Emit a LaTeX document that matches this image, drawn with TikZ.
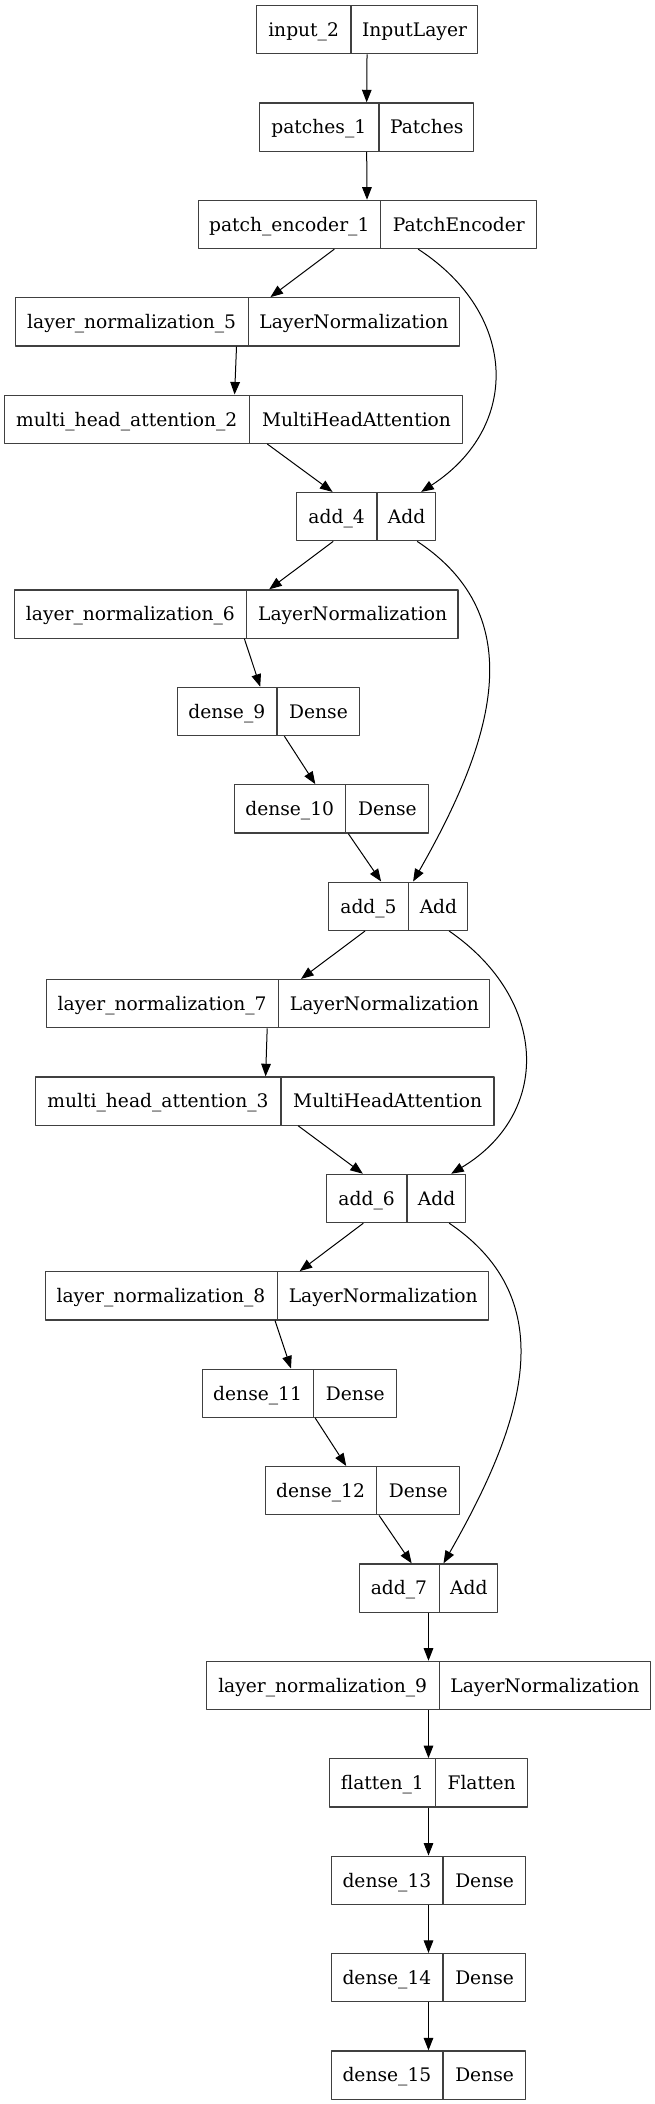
\documentclass[tikz,border=0pt]{standalone}
\usepackage{fontspec}
\setmainfont{DejaVu Serif}
\usetikzlibrary{shapes.multipart,arrows.meta,calc}
\newlength\pxu
\setlength\pxu{0.75pt}
\newcommand{\layercell}[2]{\makebox[#1\pxu]{\rule[-13pt]{0pt}{36.2pt}#2}}
\tikzset{
	layer/.style={draw=black!75, line width=0.9pt, rectangle split, rectangle split horizontal, rectangle split parts=2, inner xsep=0pt, inner ysep=0pt, font=\fontsize{14pt}{16pt}\selectfont}
}
\begin{document}
\begin{tikzpicture}[x=0.75pt, y=-0.75pt, line width=0.75pt, line join=round, >={Triangle[length=9.4pt,width=7.2pt]}]
		\fill[white] (0,0) rectangle (654,2104);
		\useasboundingbox (0,0) rectangle (654,2104);
		\foreach \n/\x/\r/\a/\b/\s/\t in {
			in2/367.2/0/93.5/126/input\_2/InputLayer,
			pat1/366.5/1/119.3/94.2/patches\_1/Patches,
			pe1/367.2/2/182/154.7/patch\_encoder\_1/PatchEncoder,
			ln5/237.5/3/231.7/210.5/layer\_normalization\_5/LayerNormalization,
			mha2/233.6/4/244.6/212.4/multi\_head\_attention\_2/MultiHeadAttention,
			add4/366.2/5/79.5/58/add\_4/Add,
			ln6/236.2/6/231.7/210.5/layer\_normalization\_6/LayerNormalization,
			d9/268.4/7/99/82/dense\_9/Dense,
			d10/331.3/8/111/82/dense\_10/Dense,
			add5/398.1/9/79.5/58/add\_5/Add,
			ln7/268/10/231.7/210.5/layer\_normalization\_7/LayerNormalization,
			mha3/264.8/11/244.6/212.4/multi\_head\_attention\_3/MultiHeadAttention,
			add6/396.2/12/79.5/58/add\_6/Add,
			ln8/266.8/13/231.7/210.5/layer\_normalization\_8/LayerNormalization,
			d11/299.2/14/111/82/dense\_11/Dense,
			d12/362.2/15/111/82/dense\_12/Dense,
			add7/428.5/16/79.5/58/add\_7/Add,
			ln9/428.5/17/231.7/210.5/layer\_normalization\_9/LayerNormalization,
			fl1/428.5/18/105/91.2/flatten\_1/Flatten,
			d13/428.5/19/111/82/dense\_13/Dense,
			d14/428.5/20/111/82/dense\_14/Dense,
			d15/428.5/21/111/82/dense\_15/Dense}
		\node[layer] (\n) at (\x,29.65+97.4*\r) {\layercell{\a}{\s}\nodepart{two}\layercell{\b}{\t}};
		\foreach \a/\b in {in2/pat1,pat1/pe1,pe1/ln5,ln5/mha2,mha2/add4,add4/ln6,ln6/d9,d9/d10,d10/add5,add5/ln7,ln7/mha3,mha3/add6,add6/ln8,ln8/d11,d11/d12,d12/add7,add7/ln9,ln9/fl1,fl1/d13,d13/d14,d14/d15}
		\draw[->] (\a) -- (\b);
		\draw[->] ($(pe1.south)+(51,0)$) .. controls +(100,65) and +(100,-65) .. ($(add4.north)+(55,0)$);
		\draw[->] ($(add4.south)+(51,0)$) .. controls +(115,76) and +(80,-140) .. ($(add5.north)+(15,0)$);
		\draw[->] ($(add5.south)+(51,0)$) .. controls +(100,69) and +(100,-60) .. ($(add6.north)+(55,0)$);
		\draw[->] ($(add6.south)+(53,0)$) .. controls +(115,78) and +(80,-140) .. ($(add7.north)+(15,0)$);
\end{tikzpicture}
\end{document}
